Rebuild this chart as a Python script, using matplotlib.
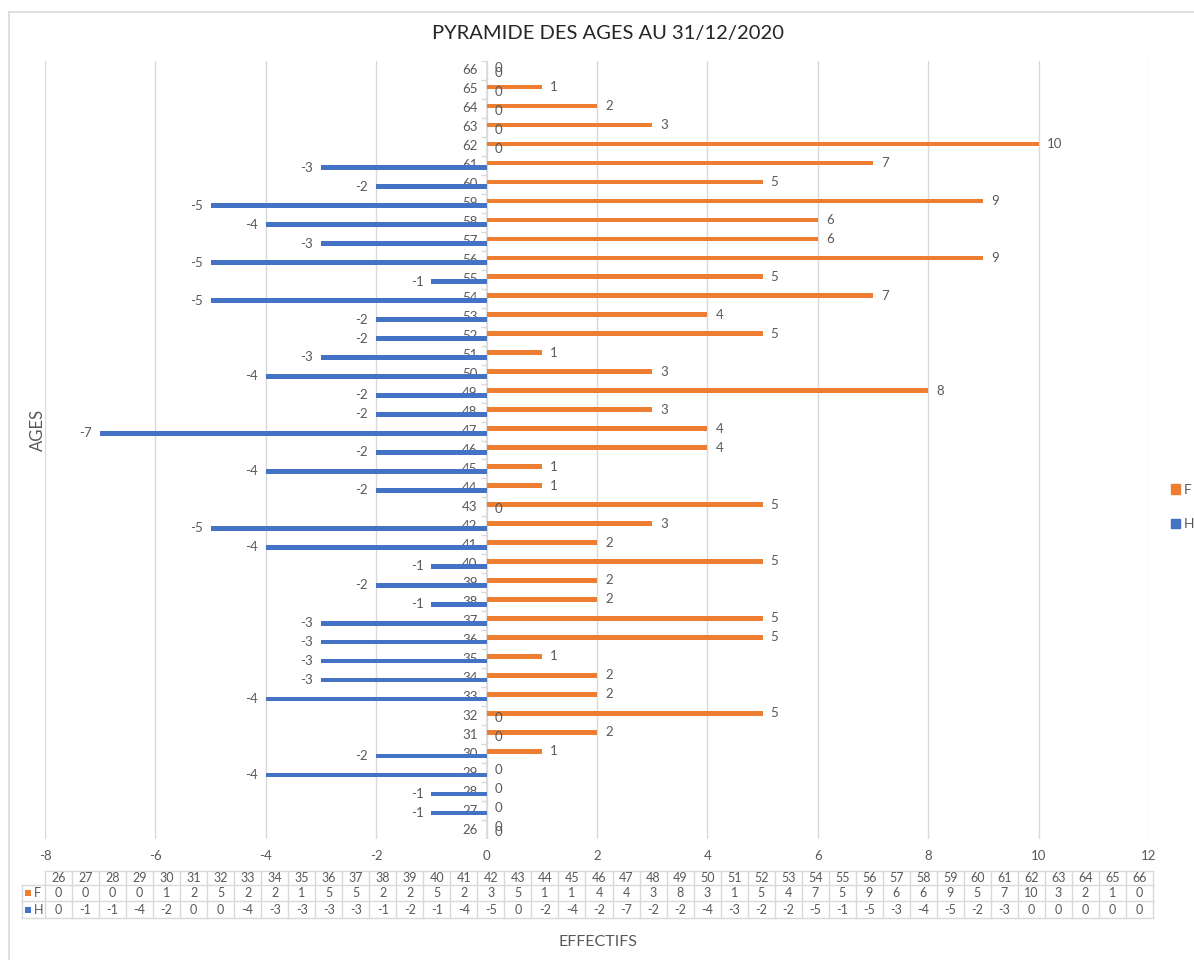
import matplotlib
matplotlib.use("Agg")
import matplotlib.pyplot as plt
from matplotlib.lines import Line2D
from matplotlib.patches import Rectangle

# ---- data -------------------------------------------------------------
ages = list(range(26, 67))
femmes = [0, 0, 0, 0, 1, 2, 5, 2, 2, 1, 5, 5, 2, 2, 5, 2, 3, 5, 1, 1,
          4, 4, 3, 8, 3, 1, 5, 4, 7, 5, 9, 6, 6, 9, 5, 7, 10, 3, 2, 1, 0]
hommes = [0, -1, -1, -4, -2, 0, 0, -4, -3, -3, -3, -3, -1, -2, -1, -4, -5, 0, -2, -4,
          -2, -7, -2, -2, -4, -3, -2, -2, -5, -1, -5, -3, -4, -5, -2, -3, 0, 0, 0, 0, 0]
series_names = ["F", "H"]
x_ticks = list(range(-8, 13, 2))

title = "PYRAMIDE DES AGES AU 31/12/2020"
x_title = "EFFECTIFS"
y_title = "AGES"

# ---- style ------------------------------------------------------------
ORANGE = "#ED7D31"
BLUE = "#4472C4"
TXT = "#595959"
GRID = "#D9D9D9"
plt.rcParams["axes.unicode_minus"] = False
NUM_FONT = ["Lato", "DejaVu Sans"]
TITLE_FONT = ["Lato", "DejaVu Sans"]
NUM_SIZE = 9.5

W, H = 1194, 960
fig = plt.figure(figsize=(W / 100, H / 100), dpi=100)


def fx(px):
    return px / W


def fy(py):
    return 1 - py / H


# chart frame
fig.add_artist(Line2D([fx(9), 1], [fy(12), fy(12)], color=GRID, lw=1.2))
fig.add_artist(Line2D([fx(9), fx(9)], [fy(12), 0], color=GRID, lw=1.2))

# ---- plot area --------------------------------------------------------
left, right, top, bottom = 45, 1149, 61, 839
ax = fig.add_axes([fx(left), fy(bottom), fx(right - left), (bottom - top) / H])
n = len(ages)
idx = list(range(n))
bh = 0.25

ax.barh([i + bh / 2 for i in idx], femmes, height=bh, color=ORANGE, lw=0, zorder=3, label="F")
ax.barh([i - bh / 2 for i in idx], hommes, height=bh, color=BLUE, lw=0, zorder=3, label="H")

ax.set_xlim(x_ticks[0], x_ticks[-1])
ax.set_ylim(-0.5, n - 0.5)
ax.set_xticks(x_ticks)
ax.set_xticklabels([str(t) for t in x_ticks], fontfamily=NUM_FONT, fontsize=NUM_SIZE, color=TXT)
ax.tick_params(axis="x", length=0, pad=8)
ax.set_yticks([])
for s in ax.spines.values():
    s.set_visible(False)
ax.grid(axis="x", color=GRID, lw=1, zorder=0)
ax.set_axisbelow(True)

# category axis along zero with boundary tick marks
ax.axvline(0, color=GRID, lw=1.2, zorder=2)
ax.hlines([i - 0.5 for i in range(n + 1)], -0.1, 0, color=GRID, lw=1, zorder=2)

# category labels next to the zero axis
for i, a in enumerate(ages):
    ax.annotate(str(a), (0, i), xytext=(-9, 0), textcoords="offset pixels",
                ha="right", va="center", fontsize=NUM_SIZE, color=TXT,
                fontfamily=NUM_FONT, zorder=1)

# value labels
for i, (f, h) in enumerate(zip(femmes, hommes)):
    ax.annotate(str(f), (f, i + bh / 2), xytext=(8, 0), textcoords="offset pixels",
                ha="left", va="center", fontsize=NUM_SIZE, color=TXT, fontfamily=NUM_FONT, zorder=4)
    if h < 0:
        ax.annotate(str(h), (h, i - bh / 2), xytext=(-8, 0), textcoords="offset pixels",
                    ha="right", va="center", fontsize=NUM_SIZE, color=TXT, fontfamily=NUM_FONT, zorder=4)
    else:
        ax.annotate(str(h), (h, i - bh / 2), xytext=(8, 0), textcoords="offset pixels",
                    ha="left", va="center", fontsize=NUM_SIZE, color=TXT, fontfamily=NUM_FONT, zorder=4)

# ---- titles -----------------------------------------------------------
fig.text(fx(608), fy(33), title, ha="center", va="center", fontsize=14.5,
         color="#262626", fontfamily=TITLE_FONT)
fig.text(fx(598), fy(942), x_title, ha="center", va="center", fontsize=11.5,
         color=TXT, fontfamily=TITLE_FONT)
fig.text(fx(38), fy(430), y_title, ha="center", va="center", rotation=90,
         fontsize=12, color=TXT, fontfamily=TITLE_FONT)

# ---- legend -----------------------------------------------------------
handles = [Rectangle((0, 0), 1, 1, color=ORANGE), Rectangle((0, 0), 1, 1, color=BLUE)]
fig.legend(handles, series_names, loc="center left", bbox_to_anchor=(fx(1171), fy(507)),
           frameon=False, borderpad=0, borderaxespad=0, handlelength=0.65,
           handleheight=0.65, handletextpad=0.3, labelspacing=1.6,
           prop={"family": NUM_FONT, "size": 10}, labelcolor=TXT)

# ---- data table -------------------------------------------------------
t_left, t_key, t_right = 22, 45, 1153
rows_y = [871, 885, 901, 918]
tab = fig.add_axes([0, 0, 1, 1], zorder=-1)
tab.set_xlim(0, W)
tab.set_ylim(H, 0)
tab.axis("off")
cw = (t_right - t_key) / n
tab.plot([t_key, t_right], [rows_y[0], rows_y[0]], color=GRID, lw=1)
for y in rows_y[1:]:
    tab.plot([t_left, t_right], [y, y], color=GRID, lw=1)
tab.plot([t_left, t_left], [rows_y[1], rows_y[3]], color=GRID, lw=1)
for j in range(n + 1):
    x = t_key + j * cw
    tab.plot([x, x], [rows_y[0], rows_y[3]], color=GRID, lw=1)

row_vals = [ages, femmes, hommes]
for r, vals in enumerate(row_vals):
    yc = (rows_y[r] + rows_y[r + 1]) / 2
    for j, v in enumerate(vals):
        tab.text(t_key + (j + 0.5) * cw, yc, str(v), ha="center", va="center",
                 fontsize=9, color=TXT, fontfamily=NUM_FONT)

for r, (name, col) in enumerate(zip(series_names, [ORANGE, BLUE]), start=1):
    yc = (rows_y[r] + rows_y[r + 1]) / 2
    tab.add_patch(Rectangle((25, yc - 3), 6, 6, color=col, lw=0))
    tab.text(34, yc, name, ha="left", va="center", fontsize=9, color=TXT,
             fontfamily=NUM_FONT)

fig.savefig("out.png", dpi=100, facecolor="white")
